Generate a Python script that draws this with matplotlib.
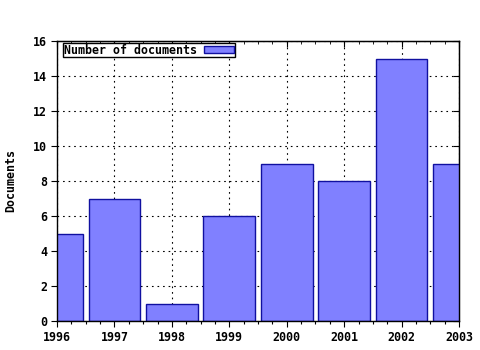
import matplotlib
matplotlib.use("Agg")
import matplotlib.pyplot as plt
from matplotlib.ticker import MultipleLocator

years = [1996, 1997, 1998, 1999, 2000, 2001, 2002, 2003]
documents = [5, 7, 1, 6, 9, 8, 15, 9]
series_label = "Number of documents"
y_label = "Documents"

plt.rcParams['font.family'] = ['DejaVu Sans Mono']
plt.rcParams['font.weight'] = 'bold'
plt.rcParams['font.size'] = 8.4

fig = plt.figure(figsize=(4.8, 3.5), dpi=100)
ax = fig.add_axes([57/480, 1-321/350, (459-57)/480, (321-41)/350])

ax.bar(years, documents, width=0.9, color='#8080ff', edgecolor='#1010a0',
       linewidth=1.0, label=series_label, zorder=2)

ax.set_xlim(1996, 2003)
ax.set_ylim(0, 16)
ax.xaxis.set_major_locator(MultipleLocator(1))
ax.xaxis.set_minor_locator(MultipleLocator(0.25))
ax.yaxis.set_major_locator(MultipleLocator(2))
ax.set_xticks(years)
ax.set_xticklabels([str(y) for y in years], fontweight='bold')
ax.grid(True, which='major', linestyle=(0, (1.5, 3.5)), color='black', linewidth=0.8, zorder=1)
ax.set_axisbelow(True)
ax.tick_params(axis='both', which='major', direction='out', length=4, width=0.8, pad=3)
ax.tick_params(axis='x', which='minor', direction='out', length=2, width=0.8)
for s in ax.spines.values():
    s.set_linewidth(1.0)
    s.set_zorder(5)

sec = ax.secondary_xaxis('top')
sec.xaxis.set_major_locator(MultipleLocator(1))
sec.xaxis.set_minor_locator(MultipleLocator(0.25))
sec.tick_params(which='major', direction='in', length=4, labeltop=False)
sec.tick_params(which='minor', direction='in', length=2)
sec.set_xticklabels([])
secy = ax.secondary_yaxis('right')
secy.yaxis.set_major_locator(MultipleLocator(2))
secy.tick_params(which='major', direction='in', length=4, labelright=False)
secy.set_yticklabels([])

ax.set_ylabel(y_label, fontweight='bold')
ax.yaxis.set_label_coords(-0.098, 0.5)

leg = ax.legend(loc='upper left', bbox_to_anchor=(0.016, 0.993), frameon=True,
                fancybox=False, edgecolor='black', framealpha=1, handlelength=2.6,
                handleheight=0.55, borderpad=0.05, markerfirst=False,
                handletextpad=0.6, borderaxespad=0)
leg.get_frame().set_linewidth(1.0)

fig.savefig('out.png', dpi=100)
